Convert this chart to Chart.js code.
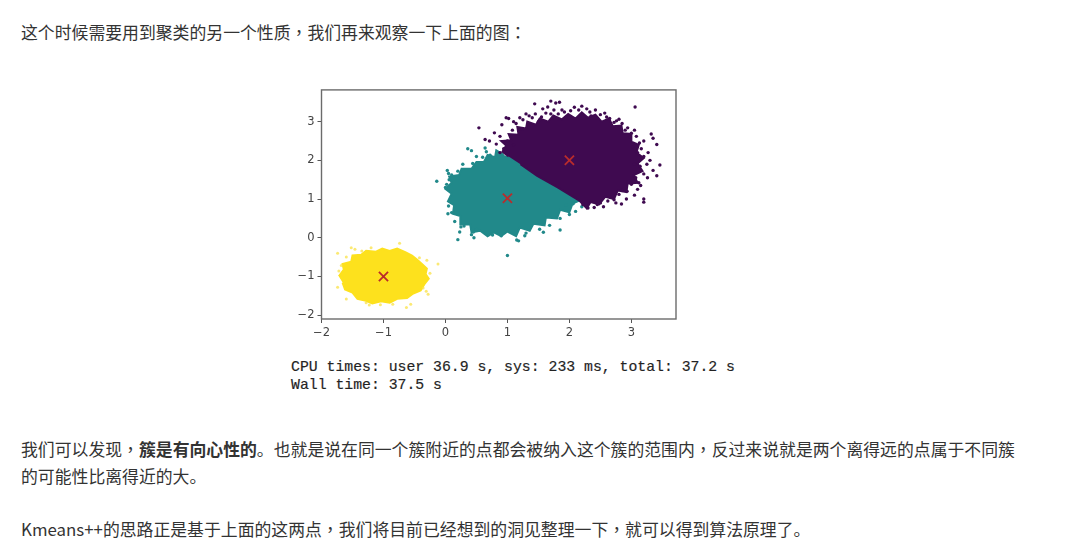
<!DOCTYPE html>
<html lang="zh">
<head>
<meta charset="utf-8">
<script src="https://cdn.jsdelivr.net/npm/chart.js@4"></script>
<style>
  html, body { margin:0; padding:0; background:#fff; }
  body { width:1080px; height:555px; overflow:hidden; position:relative; filter:blur(0.4px); }
  .line { position:absolute; left:21px; white-space:nowrap; font:16.85px/27px "Noto Sans CJK SC", sans-serif; color:#333; }
  .p { font-family:"Noto Sans CJK TC", sans-serif; }
  .mono { position:absolute; left:291px; white-space:pre; font:14.8px/18px "Liberation Mono", monospace; color:#222; -webkit-text-stroke:0.2px #333; }
  #chartBox { position:absolute; left:280px; top:80px; width:410px; height:260px; }
</style>
</head>
<body>
<div class="line" style="top:18px">这个时候需要用到聚类的另一个性质<span class="p" lang="zh-TW">，</span>我们再来观察一下上面的图<span class="p" lang="zh-TW">：</span></div>
<div id="chartBox"><canvas id="chart" width="410" height="260"></canvas></div>
<div class="mono" style="top:358px">CPU times: user 36.9 s, sys: 233 ms, total: 37.2 s</div>
<div class="mono" style="top:376px">Wall time: 37.5 s</div>
<div class="line" style="top:435px">我们可以发现<span class="p" lang="zh-TW">，</span><b>簇是有向心性的</b>。也就是说在同一个簇附近的点都会被纳入这个簇的范围内<span class="p" lang="zh-TW">，</span>反过来说就是两个离得远的点属于不同簇</div>
<div class="line" style="top:462px">的可能性比离得近的大。</div>
<div class="line" style="top:515px">Kmeans++的思路正是基于上面的这两点<span class="p" lang="zh-TW">，</span>我们将目前已经想到的洞见整理一下<span class="p" lang="zh-TW">，</span>就可以得到算法原理了。</div>

<script>
// ---- 刻度 ----
const xTicks = [-2, -1, 0, 1, 2, 3];
const yTicks = [-2, -1, 0, 1, 2, 3];

// ---- 簇中心 ----
const centers = [[2, 2], [1, 1.02], [-1, -1]];

// ---- 各簇实心区域的轮廓----
const purpleOutline = [[1.02,2.1],[0.92,2.22],[0.98,2.38],[0.9,2.5],[1.06,2.52],[1.02,2.68],[1.18,2.66],[1.16,2.86],[1.3,2.82],[1.32,3.0],[1.46,2.92],[1.52,3.08],[1.66,3.0],[1.74,3.16],[1.88,3.06],[1.98,3.2],[2.1,3.08],[2.2,3.24],[2.3,3.1],[2.42,3.18],[2.52,3.0],[2.64,3.08],[2.7,2.88],[2.84,2.9],[2.86,2.7],[3.0,2.68],[3.0,2.48],[3.12,2.4],[3.08,2.2],[3.2,2.06],[3.1,1.92],[3.18,1.72],[3.04,1.62],[3.1,1.42],[2.94,1.4],[2.92,1.18],[2.78,1.22],[2.72,1.0],[2.58,1.06],[2.48,0.86],[2.34,0.92],[2.28,0.76],[2.16,0.96],[1.81,1.3],[1.48,1.6],[1.21,1.9]];
const tealOutline = [[1.02,2.1],[1.21,1.9],[1.48,1.6],[1.81,1.3],[2.16,0.96],[2.05,0.88],[2.0,0.66],[1.85,0.72],[1.8,0.5],[1.62,0.52],[1.6,0.32],[1.42,0.36],[1.36,0.18],[1.2,0.26],[1.14,0.04],[1.0,0.16],[0.9,0.04],[0.78,0.14],[0.68,0.04],[0.56,0.18],[0.42,0.14],[0.4,0.34],[0.24,0.34],[0.24,0.56],[0.12,0.62],[0.14,0.84],[0.04,0.94],[0.1,1.14],[0.0,1.26],[0.1,1.42],[0.06,1.58],[0.22,1.62],[0.26,1.78],[0.42,1.78],[0.5,1.96],[0.62,1.96],[0.68,2.14],[0.8,2.08],[0.82,2.26],[0.94,2.14]];
const yellowOutline = [[-1.72,-1.0],[-1.64,-0.82],[-1.66,-0.68],[-1.52,-0.62],[-1.5,-0.46],[-1.36,-0.44],[-1.28,-0.34],[-1.12,-0.36],[-1.02,-0.28],[-0.9,-0.34],[-0.78,-0.28],[-0.64,-0.38],[-0.54,-0.46],[-0.46,-0.56],[-0.38,-0.68],[-0.3,-0.8],[-0.32,-0.94],[-0.27,-1.06],[-0.34,-1.2],[-0.4,-1.36],[-0.52,-1.44],[-0.62,-1.56],[-0.78,-1.58],[-0.9,-1.68],[-1.04,-1.64],[-1.18,-1.7],[-1.3,-1.62],[-1.42,-1.58],[-1.5,-1.42],[-1.62,-1.34],[-1.66,-1.16]];

// ---- 边缘散点----
const purpleEdge = [[0.54,2.84],[1.44,3.46],[1.7,3.53],[1.78,3.48],[1.84,3.5],[1.65,3.38],[1.57,3.33],[3.06,3.38],[3.32,2.68],[3.41,2.41],[3.35,2.57],[3.46,1.88],[3.41,1.6],[3.35,1.74],[3.2,1.0],[3.2,0.92],[2.84,0.87],[3.1,1.25],[0.64,2.54],[0.71,2.5],[0.79,2.71],[0.91,2.92],[0.98,3.1],[1.02,3.08],[1.2,3.1],[1.3,3.2],[1.35,3.15],[1.45,3.2],[1.55,3.12],[1.62,3.22],[1.75,3.3],[1.82,3.2],[1.92,3.25],[2.02,3.28],[2.08,3.37],[2.2,3.4],[2.28,3.33],[2.33,3.25],[2.42,3.3],[2.5,3.18],[2.57,3.22],[2.65,3.08],[2.76,3.02],[2.85,2.95],[2.94,2.84],[3.0,2.7],[3.08,2.62],[3.13,2.45],[3.16,2.3],[3.1,2.2],[3.2,2.1],[3.25,1.9],[3.14,1.85],[3.2,1.65],[3.07,1.55],[3.12,1.42],[3.0,1.38],[2.93,1.2],[2.8,1.12],[2.72,0.98],[2.62,0.95],[2.5,0.9],[2.4,0.78],[2.3,0.77],[2.22,0.86],[0.88,2.62],[0.82,2.42],[1.0,2.5],[1.08,2.78],[1.14,2.95],[1.24,2.8],[1.1,2.4],[0.94,2.3],[0.88,2.2],[3.02,2.35],[3.05,1.9],[2.98,2.6],[2.9,2.78],[2.72,2.98],[1.5,3.0],[1.95,3.12],[2.35,3.15],[2.95,1.45],[2.85,1.22],[2.66,1.05],[2.45,0.86],[1.1,3.0],[1.25,3.05],[1.4,3.1],[1.7,3.2],[1.88,3.3],[2.15,3.3],[2.6,3.12],[2.8,3.06],[3.05,2.78],[3.2,2.5],[3.27,2.2],[3.3,2.0],[3.26,1.55],[3.15,1.35],[3.05,1.1],[2.92,1.0],[2.75,0.9],[2.55,0.8]];
const tealEdge = [[-0.14,1.46],[0.03,1.74],[0.05,1.66],[0.36,2.3],[0.42,2.25],[0.64,2.32],[0.66,2.22],[0.72,2.13],[0.6,2.08],[0.5,2.1],[0.44,1.92],[0.28,1.9],[0.2,1.72],[0.1,1.62],[0.06,1.5],[0.02,1.38],[0.0,1.3],[0.05,0.82],[0.04,0.62],[0.1,0.65],[0.15,0.42],[0.25,0.28],[0.23,0.15],[0.45,0.15],[0.42,0.08],[0.2,-0.05],[0.46,0.0],[0.76,0.07],[0.9,0.05],[1.15,-0.06],[1.18,-0.08],[1.28,0.05],[1.0,-0.46],[1.58,0.14],[1.85,0.2],[1.68,0.32],[1.85,0.5],[2.0,0.6],[2.1,0.68],[2.2,0.8],[1.52,0.22],[1.3,0.12],[0.5,0.22],[0.3,0.3],[1.95,0.84],[2.06,0.88]];
const yellowEdge = [[-1.74,-0.4],[-1.52,-0.26],[-1.46,-0.3],[-0.74,-0.14],[-0.42,-0.52],[-0.12,-0.68],[-0.3,-0.58],[-0.25,-0.92],[-0.36,-1.3],[-0.28,-1.46],[-0.31,-1.38],[-0.63,-1.8],[-0.56,-1.72],[-1.6,-1.58],[-1.74,-1.28],[-1.72,-0.86],[-1.68,-0.72],[-1.28,-1.68],[-1.23,-1.74],[-1.05,-1.73],[-0.85,-1.72],[-1.6,-0.5],[-1.35,-0.34],[-1.2,-0.26]];

const toXY = (arr) => arr.map(([x, y]) => ({ x, y }));

const PURPLE = "#3f0a50", TEAL = "#21898a", YELLOW = "#fde11d", MARK = "#b92c2c";

function blob(data, color, order) {
  return { data: toXY(data), showLine: true, fill: "shape", tension: 0,
           backgroundColor: color, borderColor: color, borderWidth: 2, pointRadius: 0, order };
}
function edge(data, color, order, r) {
  return { data: toXY(data), showLine: false, pointRadius: r, pointBorderWidth: 0,
           backgroundColor: color, borderColor: color, order };
}

// 上・右の枠線
const framePlugin = {
  id: "frame",
  afterDraw(c) {
    const { left, right, top, bottom } = c.chartArea;
    const g = c.ctx;
    g.save();
    g.strokeStyle = "#6b6b6b";
    g.lineWidth = 1.4;
    g.strokeRect(left, top, right - left, bottom - top);
    g.restore();
  }
};

const tickFont = { family: "'DejaVu Sans'", size: 11.5 };
const fmt = (v) => String(v).replace("-", "\u2212");

new Chart(document.getElementById("chart"), {
  type: "scatter",
  data: {
    datasets: [
      { data: toXY(centers), pointStyle: "crossRot", pointRadius: 6.5, pointBorderWidth: 1.8,
        borderColor: MARK, backgroundColor: MARK, showLine: false, order: 0 },
      edge(purpleEdge, PURPLE, 1, 1.7),
      blob(purpleOutline, PURPLE, 2),
      edge(tealEdge, TEAL, 3, 1.7),
      blob(tealOutline, TEAL, 4),
      edge(yellowEdge, "rgba(250,225,70,.75)", 5, 1.5),
      blob(yellowOutline, YELLOW, 6)
    ]
  },
  options: {
    responsive: false,
    animation: false,
    layout: { padding: { top: 9.5, right: 14, left: 0, bottom: 0 } },
    plugins: { legend: { display: false }, tooltip: { enabled: false } },
    scales: {
      x: {
        type: "linear", min: -2, max: 3.72,
        afterBuildTicks: (s) => { s.ticks = xTicks.map(value => ({ value })); },
        afterFit: (s) => { s.height = 21; },
        grid: { drawOnChartArea: false, tickLength: 4, tickColor: "#555" },
        border: { display: false },
        ticks: { font: tickFont, color: "#444", padding: 3, maxRotation: 0, callback: fmt }
      },
      y: {
        type: "linear", min: -2.1, max: 3.82,
        afterBuildTicks: (s) => { s.ticks = yTicks.map(value => ({ value })); },
        afterFit: (s) => { s.width = 41.5; },
        grid: { drawOnChartArea: false, tickLength: 4, tickColor: "#555" },
        border: { display: false },
        ticks: { font: tickFont, color: "#444", padding: 3, callback: fmt }
      }
    }
  },
  plugins: [framePlugin]
});
</script>
</body>
</html>
